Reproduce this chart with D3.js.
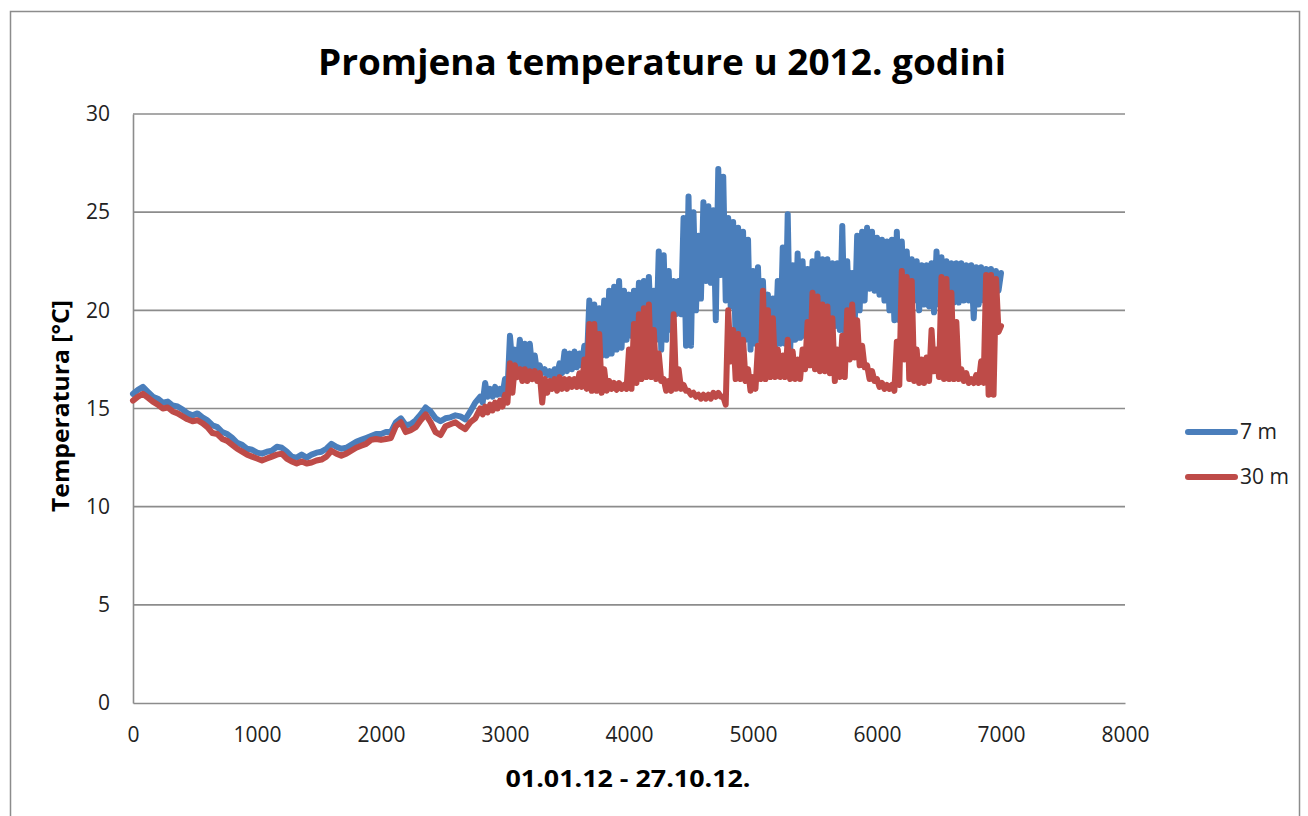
<!DOCTYPE html>
<html>
<head>
<meta charset="utf-8">
<script src="https://cdn.jsdelivr.net/npm/d3@7"></script>
<style>
  html, body { margin: 0; padding: 0; background: #ffffff; }
  svg { display: block; }
</style>
</head>
<body>
<script>
// ---- Data ----
const title = "Promjena temperature u 2012. godini";
const xTitle = "01.01.12 - 27.10.12.";
const yTitle = "Temperatura [°C]";
const seriesNames = ["7 m", "30 m"];
const xTicks = [0, 1000, 2000, 3000, 4000, 5000, 6000, 7000, 8000];
const yTicks = [0, 5, 10, 15, 20, 25, 30];

// sample positions (hour index): every 40 h in the calm part, every 20 h later
const hours = d3.range(0, 2800, 40).concat(d3.range(2800, 7000, 20), [7000]);

const t7 = [
  // 0 - 2760
  15.75, 15.95, 16.1, 15.85, 15.6, 15.5, 15.3, 15.35, 15.15, 15.1,
  14.95, 14.75, 14.65, 14.75, 14.55, 14.4, 14.15, 14.05, 13.8, 13.7,
  13.5, 13.25, 13.15, 12.95, 12.9, 12.75, 12.7, 12.8, 12.85, 13.05,
  13.0, 12.8, 12.55, 12.5, 12.65, 12.5, 12.65, 12.75, 12.8, 12.95,
  13.2, 13.05, 12.95, 13.0, 13.15, 13.3, 13.4, 13.5, 13.6, 13.7,
  13.7, 13.8, 13.8, 14.3, 14.5, 14.15, 14.2, 14.4, 14.7, 15.05,
  14.85, 14.5, 14.35, 14.5, 14.55, 14.65, 14.6, 14.45, 14.85, 15.3,
  // 2800 - 6980 (pairs: daily high, daily low)
  15.6, 15.3, 16.3, 15.6, 16.0, 15.6, 16.1, 15.7, 16.0, 15.7,
  16.5, 15.9, 18.7, 17.1, 18.0, 17.1, 18.5, 17.1, 18.3, 17.0,
  18.3, 17.0, 17.7, 16.8, 17.2, 16.8, 17.0, 16.7, 16.9, 16.6,
  17.0, 16.7, 17.3, 16.8, 17.9, 16.9, 17.8, 17.0, 17.9, 17.1,
  17.8, 17.2, 18.2, 17.3, 20.5, 17.5, 20.3, 17.6, 20.1, 17.7,
  20.5, 17.7, 21.0, 17.8, 21.2, 18.0, 21.5, 18.1, 21.0, 18.5,
  20.8, 18.7, 21.0, 18.8, 21.4, 18.8, 21.5, 18.8, 21.7, 18.8,
  21.0, 18.5, 23.0, 18.0, 22.8, 18.5, 22.0, 19.0, 21.5, 19.8,
  21.5, 19.8, 24.7, 18.2, 25.8, 18.2, 25.0, 20.0, 23.8, 20.6,
  25.5, 21.5, 25.3, 21.4, 25.1, 19.5, 27.2, 21.8, 26.8, 20.5,
  24.7, 20.2, 24.5, 18.3, 24.2, 18.7, 24.0, 18.5, 23.6, 18.0,
  22.0, 18.3, 22.2, 18.5, 21.5, 18.3, 20.8, 18.0, 20.6, 18.2,
  21.5, 18.3, 23.2, 18.3, 24.9, 18.0, 22.3, 18.5, 22.9, 18.6,
  22.5, 18.7, 22.1, 18.8, 22.5, 19.0, 22.9, 19.0, 22.6, 19.2,
  22.6, 19.2, 22.4, 19.2, 22.4, 19.0, 24.3, 18.9, 22.5, 19.1,
  21.9, 19.2, 23.8, 20.0, 24.0, 20.5, 24.2, 21.1, 24.0, 21.0,
  23.7, 20.8, 23.6, 20.5, 23.5, 20.0, 23.6, 19.5, 24.0, 19.5,
  23.5, 20.0, 23.0, 20.3, 22.6, 20.5, 22.5, 20.0, 22.3, 20.3,
  22.3, 20.2, 22.4, 19.9, 23.0, 20.3, 22.7, 20.2, 22.5, 20.3,
  22.4, 20.4, 22.4, 20.4, 22.4, 20.5, 22.3, 20.5, 22.3, 19.6,
  22.2, 20.3, 22.2, 20.5, 22.1, 20.6, 22.1, 20.7, 22.0, 21.0,
  // 7000
  21.9
];

const t30 = [
  // 0 - 2760
  15.4, 15.6, 15.75, 15.55, 15.35, 15.2, 15.0, 15.05, 14.85, 14.75,
  14.6, 14.45, 14.35, 14.4, 14.25, 14.05, 13.75, 13.7, 13.45, 13.35,
  13.15, 12.95, 12.8, 12.65, 12.55, 12.45, 12.35, 12.45, 12.55, 12.65,
  12.7, 12.45, 12.3, 12.2, 12.3, 12.2, 12.25, 12.35, 12.4, 12.55,
  12.85, 12.7, 12.6, 12.7, 12.85, 13.0, 13.1, 13.2, 13.4, 13.45,
  13.4, 13.45, 13.5, 14.1, 14.3, 13.8, 13.9, 14.05, 14.4, 14.7,
  14.3, 13.8, 13.65, 14.1, 14.2, 14.3, 14.1, 13.95, 14.3, 14.5,
  // 2800 - 6980 (pairs: daily high, daily low)
  15.0, 14.7, 15.1, 14.8, 15.2, 14.9, 15.3, 15.0, 15.4, 15.1,
  15.7, 15.3, 17.3, 15.8, 17.2, 16.6, 17.0, 16.4, 17.0, 16.4,
  16.9, 16.5, 16.9, 16.4, 16.8, 15.3, 16.5, 15.8, 16.4, 16.0,
  16.5, 15.9, 16.6, 16.0, 16.5, 16.0, 16.5, 16.1, 16.5, 16.1,
  16.8, 16.1, 17.5, 16.0, 19.3, 15.9, 19.3, 15.9, 18.8, 15.8,
  17.0, 15.9, 16.4, 16.0, 16.3, 15.95, 16.3, 16.0, 16.2, 16.0,
  18.0, 16.0, 19.3, 16.3, 19.8, 16.5, 20.1, 16.6, 20.3, 16.6,
  19.0, 16.5, 17.8, 16.4, 16.5, 15.9, 16.4, 15.9, 19.8, 16.0,
  17.0, 16.0, 16.2, 15.9, 15.9, 15.7, 15.8, 15.6, 15.7, 15.5,
  15.7, 15.5, 15.7, 15.5, 15.8, 15.6, 15.8, 15.6, 15.6, 15.2,
  20.0, 17.4, 19.0, 16.5, 18.8, 16.5, 18.5, 16.4, 17.0, 15.9,
  16.6, 16.0, 18.2, 16.5, 21.0, 16.5, 20.0, 16.6, 19.6, 16.6,
  18.0, 16.6, 17.7, 16.6, 18.5, 16.5, 17.9, 16.5, 17.5, 16.5,
  18.0, 17.0, 19.4, 17.2, 20.9, 17.0, 20.7, 16.9, 20.3, 16.9,
  20.2, 16.8, 19.6, 16.4, 18.0, 16.6, 18.7, 16.6, 20.0, 17.5,
  20.3, 17.6, 19.5, 17.2, 18.2, 17.1, 17.2, 16.5, 16.9, 16.4,
  16.5, 16.1, 16.3, 16.0, 16.2, 16.0, 16.2, 15.9, 18.4, 16.2,
  22.0, 17.5, 21.7, 16.5, 21.5, 16.4, 18.0, 16.3, 17.5, 16.3,
  17.6, 16.4, 19.0, 16.9, 18.0, 16.6, 21.7, 16.5, 21.6, 16.5,
  20.9, 16.5, 19.4, 16.5, 17.0, 16.4, 16.8, 16.3, 16.5, 16.3,
  16.7, 16.3, 17.4, 16.3, 21.8, 15.7, 21.8, 15.7, 21.6, 18.9,
  // 7000
  19.2
];

const colors = ["#4a7ebb", "#be4b48"];

// ---- Layout ----
const W = 1308, H = 816;
const plot = { left: 133, right: 1125, top: 114, bottom: 703 };
const FONT = "'Open Sans', 'Liberation Sans', sans-serif";

const svg = d3.select("body").append("svg")
  .attr("width", W).attr("height", H);

// outer chart border
svg.append("rect")
  .attr("x", 10.5).attr("y", 11.5)
  .attr("width", 1289).attr("height", 830)
  .attr("fill", "#fff")
  .attr("stroke", "#8c8c8c").attr("stroke-width", 1.5);

const x = d3.scaleLinear().domain([0, 8000]).range([plot.left, plot.right]);
const y = d3.scaleLinear().domain([0, 30]).range([plot.bottom, plot.top]);

// gridlines
svg.append("g")
  .selectAll("line").data(yTicks.filter(d => d > 0)).join("line")
  .attr("x1", plot.left).attr("x2", plot.right)
  .attr("y1", d => y(d)).attr("y2", d => y(d))
  .attr("stroke", "#8c8c8c").attr("stroke-width", 1.6);

// y axis
const yAxis = svg.append("g")
  .attr("transform", `translate(${plot.left},0)`)
  .call(d3.axisLeft(y).tickValues(yTicks).tickSize(0).tickPadding(23));
yAxis.select(".domain").attr("stroke", "#8c8c8c").attr("stroke-width", 1.6);
yAxis.selectAll("text").attr("font-family", FONT).attr("font-size", 21).attr("fill", "#222");

// x axis
const xAxis = svg.append("g")
  .attr("transform", `translate(0,${plot.bottom})`)
  .call(d3.axisBottom(x).tickValues(xTicks).tickSize(0).tickPadding(32).tickFormat(d3.format("d")));
xAxis.select(".domain").attr("stroke", "#8c8c8c").attr("stroke-width", 1.6);
xAxis.selectAll("text").attr("font-family", FONT).attr("font-size", 21).attr("fill", "#222")
  .attr("dy", "0.34em");

// series
const series = [t7, t30].map((vals, k) => ({
  name: seriesNames[k],
  color: colors[k],
  points: vals.map((v, i) => [hours[i], v])
}));

const line = d3.line().x(d => x(d[0])).y(d => y(d[1]));

svg.append("g").selectAll("path").data(series).join("path")
  .attr("d", d => line(d.points))
  .attr("fill", "none")
  .attr("stroke", d => d.color)
  .attr("stroke-width", 6)
  .attr("stroke-linejoin", "round")
  .attr("stroke-linecap", "round");

// title
svg.append("text")
  .attr("x", 662).attr("y", 75)
  .attr("text-anchor", "middle")
  .attr("font-family", FONT).attr("font-weight", "bold")
  .attr("font-size", 35).attr("fill", "#000")
  .attr("textLength", 688).attr("lengthAdjust", "spacingAndGlyphs")
  .text(title);

// axis titles
svg.append("text")
  .attr("x", 628).attr("y", 787)
  .attr("text-anchor", "middle")
  .attr("font-family", FONT).attr("font-weight", "bold")
  .attr("font-size", 24).attr("fill", "#000")
  .attr("textLength", 245).attr("lengthAdjust", "spacingAndGlyphs")
  .text(xTitle);

svg.append("text")
  .attr("transform", "translate(69,406) rotate(-90)")
  .attr("text-anchor", "middle")
  .attr("font-family", FONT).attr("font-weight", "bold")
  .attr("font-size", 24).attr("fill", "#000")
  .attr("textLength", 212).attr("lengthAdjust", "spacingAndGlyphs")
  .text(yTitle);

// legend
const legend = svg.append("g");
const legY = [432, 477];
series.forEach((s, k) => {
  legend.append("line")
    .attr("x1", 1188).attr("x2", 1235)
    .attr("y1", legY[k]).attr("y2", legY[k])
    .attr("stroke", s.color).attr("stroke-width", 6)
    .attr("stroke-linecap", "round");
  legend.append("text")
    .attr("x", 1240).attr("y", legY[k])
    .attr("dy", "0.35em")
    .attr("font-family", FONT).attr("font-size", 21).attr("fill", "#222")
    .text(s.name);
});
</script>
</body>
</html>
